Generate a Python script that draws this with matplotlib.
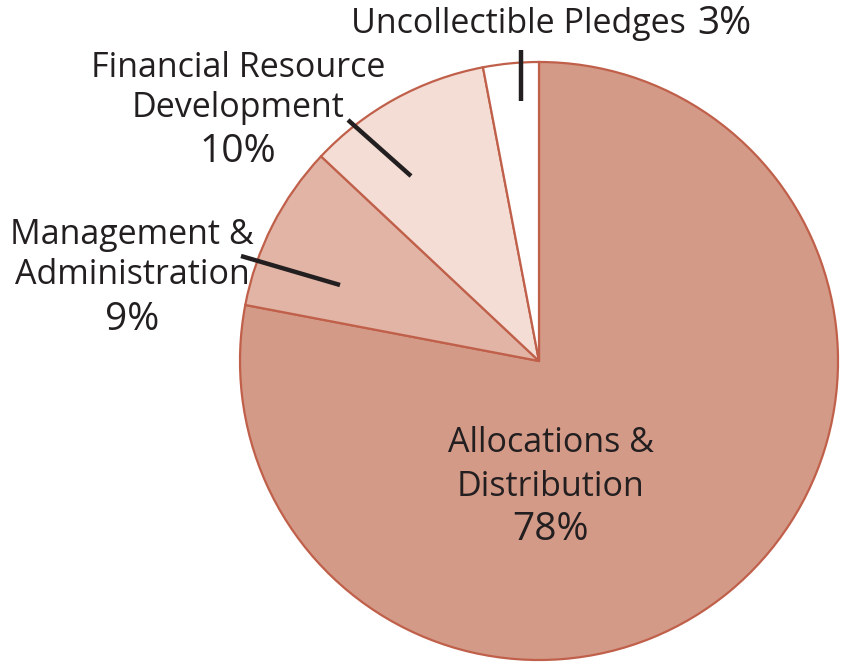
import matplotlib.pyplot as plt

# Data
labels = ["Allocations &\nDistribution", "Management &\nAdministration",
          "Financial Resource\nDevelopment", "Uncollectible Pledges"]
shares = [78, 9, 10, 3]
colors = ["#d49a88", "#e1b4a5", "#f3ddd5", "#ffffff"]

W, H = 851, 662
plt.rcParams["font.family"] = ["Open Sans", "DejaVu Sans"]

fig = plt.figure(figsize=(W / 100, H / 100), dpi=100)
ax = fig.add_axes([0, 0, 1, 1])

cx, cy, r = 539, H - 361, 299
ax.pie(shares, colors=colors, startangle=90, counterclock=False,
       center=(cx, cy), radius=r,
       wedgeprops=dict(edgecolor="#c0604a", linewidth=1.6))
ax.set_xlim(0, W)
ax.set_ylim(0, H)
ax.set_aspect("equal")
ax.axis("off")

txt = "#231f20"
fs, fp = 24.5, 28


def label(x, ys, text, pct):
    lines = text.split("\n")
    for line, y in zip(lines, ys):
        ax.text(x, H - y, line, ha="center", va="center", fontsize=fs, color=txt)
    ax.text(x, H - ys[-1], f"{pct}%", ha="center", va="center", fontsize=fp, color=txt)


label(551, [443, 487, 530], labels[0], shares[0])
label(132, [235, 275, 320], labels[1], shares[1])
label(238, [68, 108, 152], labels[2], shares[2])

ax.plot([241, 340], [H - 256, H - 285], color=txt, lw=3.2, solid_capstyle="butt")
ax.plot([348, 411], [H - 120, H - 176], color=txt, lw=3.2, solid_capstyle="butt")

# Uncollectible Pledges
ax.text(686, H - 24, labels[3], ha="right", va="center", fontsize=fs, color=txt)
ax.text(697, H - 24, f"{shares[3]}%", ha="left", va="center", fontsize=fp, color=txt)
ax.plot([521, 521], [H - 50, H - 101], color=txt, lw=3.2, solid_capstyle="butt")

fig.savefig("out.png", dpi=100)
